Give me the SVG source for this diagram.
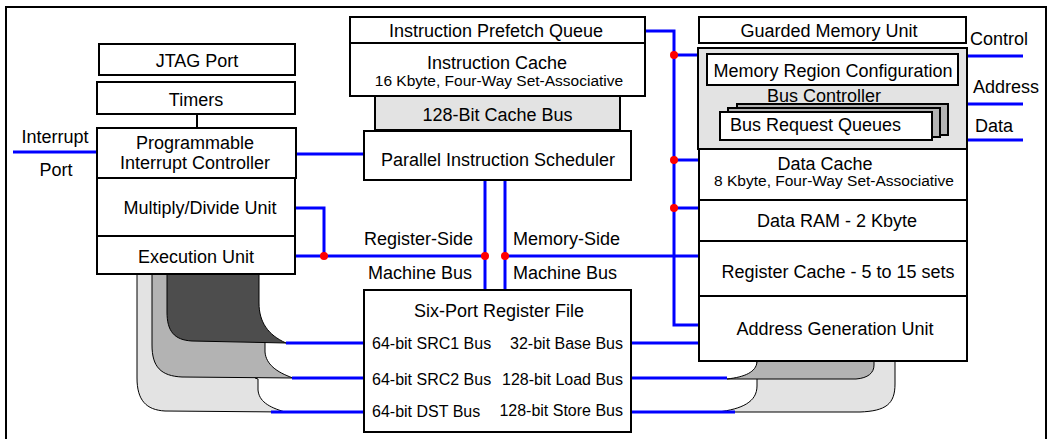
<svg xmlns="http://www.w3.org/2000/svg" width="1049" height="439" viewBox="0 0 1049 439">
<style>
.box{fill:#fff;stroke:#000;stroke-width:2}
.gray{fill:#e3e3e3;stroke:#000;stroke-width:2}
.bus{fill:none;stroke:#0000ff;stroke-width:3}
.blk{fill:none;stroke:#000;stroke-width:2}
.dot{fill:#ff0000}
.rib{stroke:#000;stroke-width:1}
text{font-family:"Liberation Sans",Arial,sans-serif;font-size:18px;fill:#000}
.c{text-anchor:middle}
.e{text-anchor:end}
.s{font-size:15.5px}
.r{font-size:16px}
</style>
<rect width="1049" height="439" fill="#fff"/>
<rect x="6" y="7" width="1040" height="445" class="blk"/>

<g id="ribbons">
<path class="rib" fill="#e3e3e3" d="M137 274 H255 V378 L258 379 V390 C259 401 268 407 285 412 L165 411 C146 410 137 400 137 378 Z"/>
<path class="rib" fill="#b3b3b3" d="M152 274 H258 V310 L265 335 V352 C266 364 276 372 293 378 L182 377 C161 376 152 367 152 345 Z"/>
<path class="rib" fill="#4d4d4d" d="M167 274 H259 V303 C259 322 268 335 286 343 L192 341 C174 340 167 331 167 312 Z"/>
<path class="rib" fill="#e3e3e3" d="M757 361 H895 V384 C895 404 886 411 860 412 L718 412 C742 409 757 402 757 386 Z"/>
<path class="rib" fill="#b3b3b3" d="M757 361 H874 V365 C874 373 868 378 856 379 L727 379 C745 377 756 372 757 362 Z"/>
</g>

<g id="connectors">
<line class="blk" x1="197" y1="114" x2="197" y2="128"/>
<path class="bus" d="M13 152 H97"/>
<path class="bus" d="M296 154 H364"/>
<path class="bus" d="M295 208 H324 V256"/>
<path class="bus" d="M295 256 H485"/>
<path class="bus" d="M485 180 V290"/>
<path class="bus" d="M505 180 V290"/>
<path class="bus" d="M505 256 H699"/>
<path class="bus" d="M645 31 H674 V325 H699"/>
<path class="bus" d="M674 55 H698"/>
<path class="bus" d="M674 160 H699"/>
<path class="bus" d="M674 208 H699"/>
<path class="bus" d="M967 56 H1023"/>
<path class="bus" d="M967 104 H1023"/>
<path class="bus" d="M967 140 H1023"/>
<path class="bus" d="M286 343 H364"/>
<path class="bus" d="M292 378 H364"/>
<path class="bus" d="M271 412 H364"/>
<path class="bus" d="M631 343 H699"/>
<path class="bus" d="M631 378 H727"/>
<path class="bus" d="M631 412 H735"/>
<circle class="dot" cx="324" cy="256" r="4"/>
<circle class="dot" cx="485" cy="256" r="4"/>
<circle class="dot" cx="505" cy="256" r="4"/>
<circle class="dot" cx="674" cy="55" r="4"/>
<circle class="dot" cx="674" cy="160" r="4"/>
<circle class="dot" cx="674" cy="208" r="4"/>
</g>

<g id="labels">
<text class="c" x="55" y="143">Interrupt</text>
<text class="c" x="56" y="176">Port</text>
<text class="e" x="473" y="245">Register-Side</text>
<text class="e" x="472" y="279">Machine Bus</text>
<text x="513" y="245">Memory-Side</text>
<text x="513" y="279">Machine Bus</text>
<text x="970" y="45">Control</text>
<text x="973" y="93">Address</text>
<text x="975" y="132">Data</text>
</g>

<g id="jtag"><rect class="box" x="99" y="44" width="196" height="31"/><text class="c" x="197" y="66.5">JTAG Port</text></g>
<g id="timers"><rect class="box" x="97" y="82" width="198" height="32"/><text class="c" x="196" y="106">Timers</text></g>
<g id="pic"><rect class="box" x="97" y="128" width="199" height="50"/><text class="c" x="195" y="149">Programmable</text><text class="c" x="195" y="169">Interrupt Controller</text></g>
<g id="mdu"><rect class="box" x="97" y="178" width="198" height="58"/><text class="c" x="200" y="214">Multiply/Divide Unit</text></g>
<g id="eu"><rect class="box" x="97" y="236" width="198" height="38"/><text class="c" x="196" y="263">Execution Unit</text></g>

<g id="ipq"><rect class="box" x="350" y="17" width="295" height="26"/><text class="c" x="496" y="37">Instruction Prefetch Queue</text></g>
<g id="icache"><rect class="box" x="350" y="43" width="295" height="53"/><text class="c" x="497" y="69">Instruction Cache</text><text class="c s" x="499" y="86">16 Kbyte, Four-Way Set-Associative</text></g>
<g id="cachebus"><rect class="gray" x="375" y="96" width="245" height="34"/><text class="c" x="497.5" y="121">128-Bit Cache Bus</text></g>
<g id="pis"><rect class="box" x="364" y="131" width="267" height="49"/><text class="c" x="498" y="166">Parallel Instruction Scheduler</text></g>

<g id="regfile"><rect class="box" x="364" y="290" width="267" height="142"/>
<text class="c" x="499" y="317">Six-Port Register File</text>
<text class="r" x="372" y="349">64-bit SRC1 Bus</text>
<text class="r" x="372" y="385">64-bit SRC2 Bus</text>
<text class="r" x="372" y="417">64-bit DST Bus</text>
<text class="r e" x="623" y="349">32-bit Base Bus</text>
<text class="r e" x="623" y="385">128-bit Load Bus</text>
<text class="r e" x="623" y="416">128-bit Store Bus</text>
</g>

<g id="gmu"><rect class="box" x="699" y="17" width="267" height="26"/><text class="c" x="829" y="37">Guarded Memory Unit</text></g>
<g id="buscontroller"><rect class="gray" x="698" y="48" width="269" height="101"/>
<rect class="box" x="707" y="54" width="251" height="31"/><text class="c" x="833" y="77">Memory Region Configuration</text>
<text class="c" x="824" y="102">Bus Controller</text>
<rect class="box" x="737" y="104" width="211" height="31" style="fill:#b3b3b3"/>
<rect class="box" x="728" y="108" width="212" height="29" style="fill:#b3b3b3"/>
<rect class="box" x="720" y="112" width="212" height="28"/>
<text x="730" y="131">Bus Request Queues</text>
</g>
<g id="dcache"><rect class="box" x="699" y="149" width="268" height="51"/><text class="c" x="825" y="170">Data Cache</text><text class="c s" x="834" y="186">8 Kbyte, Four-Way Set-Associative</text></g>
<g id="dram"><rect class="box" x="699" y="200" width="268" height="41"/><text class="c" x="837" y="227">Data RAM - 2 Kbyte</text></g>
<g id="regcache"><rect class="box" x="699" y="241" width="268" height="55"/><text class="c" x="838" y="278">Register Cache - 5 to 15 sets</text></g>
<g id="agu"><rect class="box" x="699" y="296" width="268" height="65"/><text class="c" x="835" y="335">Address Generation Unit</text></g>
</svg>
